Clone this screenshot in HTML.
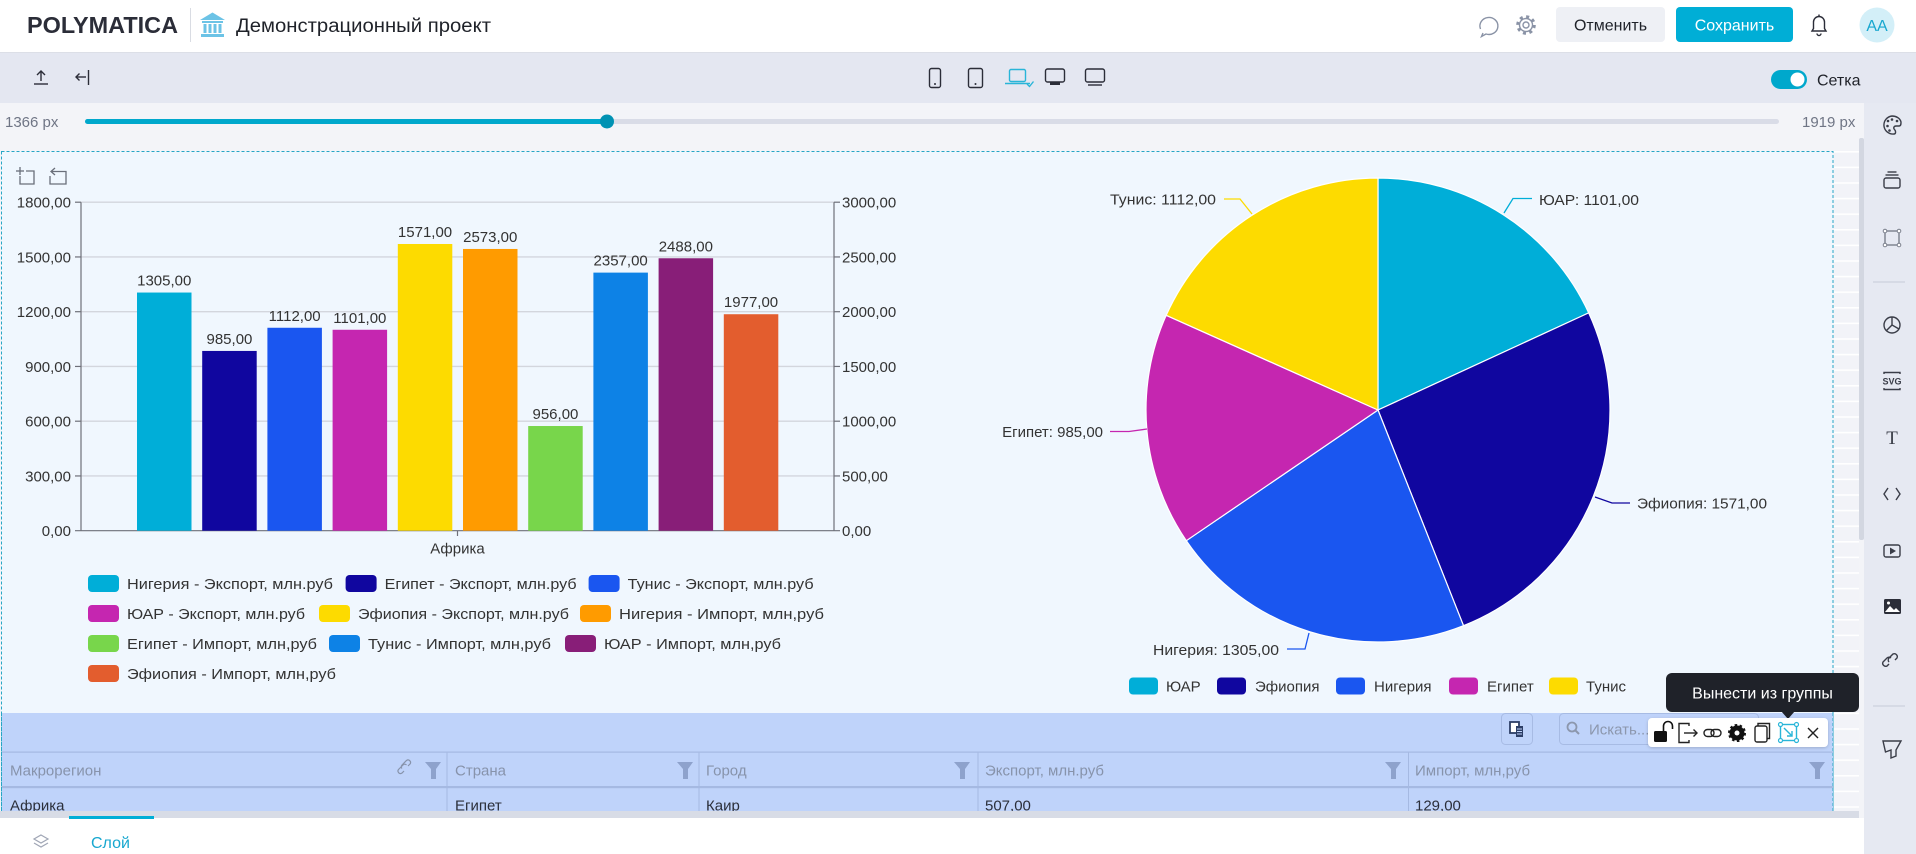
<!DOCTYPE html>
<html><head><meta charset="utf-8"><style>
html,body{margin:0;padding:0;width:1916px;height:854px;overflow:hidden;background:#f3f4f8}
svg{position:absolute;left:0;top:0;display:block}
text{font-family:"Liberation Sans","DejaVu Sans",sans-serif}
</style></head><body>
<svg width="1916" height="854" viewBox="0 0 1916 854" xmlns="http://www.w3.org/2000/svg">
<defs>
<pattern id="grid" x="0" y="151" width="30" height="15.6" patternUnits="userSpaceOnUse">
<rect width="30" height="15.6" fill="#f2f3f8"/><rect width="30" height="1.6" fill="#ffffff"/>
</pattern>
<clipPath id="tbl"><rect x="2" y="713" width="1831" height="98"/></clipPath>
<filter id="sh" x="-10%" y="-30%" width="120%" height="160%"><feDropShadow dx="0" dy="1" stdDeviation="1.5" flood-color="#000" flood-opacity="0.18"/></filter>
</defs>

<!-- HEADER -->
<rect x="0" y="0" width="1916" height="52" fill="#ffffff"/>
<rect x="0" y="52" width="1916" height="1" fill="#dcdfe7"/>
<text x="27" y="33" font-size="23" font-weight="bold" fill="#2b2d38" textLength="151" lengthAdjust="spacingAndGlyphs">POLYMATICA</text>
<rect x="190" y="8" width="1" height="34" fill="#d9dce3"/>
<g fill="#6cc3e6">
<polygon points="200,20 212.5,12.5 225,20"/>
<rect x="202" y="21" width="21" height="2"/>
<rect x="203.5" y="24" width="3" height="9"/><rect x="208.5" y="24" width="3" height="9"/><rect x="213.5" y="24" width="3" height="9"/><rect x="218.5" y="24" width="3" height="9"/>
<rect x="201" y="34" width="23" height="3"/>
</g>
<text x="236" y="32" font-size="19" fill="#1f2229" textLength="255" lengthAdjust="spacingAndGlyphs">Демонстрационный проект</text>

<g fill="none" stroke="#8a93a6" stroke-width="1.4">
<path d="M1483,33 L1481.5,36.5 L1486,34 A9,8.5 0 1 0 1480.5,29"/>
<circle cx="1526" cy="25" r="3"/>
<circle cx="1526" cy="25" r="6.5"/>
<circle cx="1526" cy="25" r="8.3" stroke-width="3" stroke-dasharray="3 3.5"/>
</g>
<rect x="1556" y="7" width="109" height="35" rx="4" fill="#eef0f5"/>
<text x="1610.5" y="30.5" font-size="16" fill="#1f2229" text-anchor="middle">Отменить</text>
<rect x="1676" y="7" width="117" height="35" rx="4" fill="#00aed6"/>
<text x="1734.5" y="30.5" font-size="16" fill="#ffffff" text-anchor="middle">Сохранить</text>
<g fill="none" stroke="#2b2d38" stroke-width="1.4">
<path d="M1812,31 L1813.5,28.5 L1813.5,22 A5.5,5.5 0 0 1 1824.5,22 L1824.5,28.5 L1826,31 Z"/>
<path d="M1817,33.5 A2,2 0 0 0 1821,33.5"/>
<line x1="1819" y1="14.5" x2="1819" y2="16.5"/>
</g>
<circle cx="1877" cy="25" r="17.5" fill="#d3eff8"/>
<text x="1877" y="31" font-size="16" fill="#17a7cf" text-anchor="middle">AA</text>

<!-- TOOLBAR -->
<rect x="0" y="53" width="1916" height="50" fill="#e4e7f1"/>
<g fill="none" stroke="#2b2d38" stroke-width="1.4">
<line x1="34" y1="84" x2="48" y2="84"/>
<line x1="41" y1="81" x2="41" y2="71"/>
<polyline points="37,75 41,71 45,75"/>
<line x1="76" y1="77" x2="86" y2="77"/>
<polyline points="79.5,73.5 76,77 79.5,80.5"/>
<line x1="88.5" y1="70" x2="88.5" y2="85"/>
<rect x="929.5" y="68.5" width="11" height="19" rx="2"/>
<rect x="968.5" y="68.5" width="14" height="19" rx="2"/>
<rect x="1045.5" y="69" width="19" height="13" rx="2"/>
<rect x="1085.5" y="69" width="19" height="13" rx="2"/>
<line x1="1088" y1="85" x2="1102" y2="85"/>
</g>
<circle cx="935" cy="84" r="1" fill="#2b2d38"/><circle cx="975.5" cy="84" r="1" fill="#2b2d38"/>
<rect x="1050" y="82" width="10" height="3" fill="#2b2d38"/>
<g fill="none" stroke="#29b5d8" stroke-width="1.4">
<rect x="1009.5" y="69.5" width="16" height="12" rx="1.5"/>
<line x1="1005" y1="83.5" x2="1030" y2="83.5"/>
<polyline points="1027,84 1029.5,86.5 1033.5,81.5"/>
</g>
<rect x="1771" y="70" width="36" height="19" rx="9.5" fill="#00a8cc"/>
<circle cx="1797.5" cy="79.5" r="7" fill="#ffffff"/>
<text x="1817" y="85.5" font-size="16" fill="#1f2229">Сетка</text>

<!-- SLIDER ROW -->
<rect x="0" y="103" width="1864" height="35" fill="#f3f4f8"/>
<text x="5" y="127" font-size="15" fill="#6f7585">1366 px</text>
<rect x="85" y="119" width="1694" height="5" rx="2.5" fill="#d9dce7"/>
<rect x="85" y="119" width="522" height="5" rx="2.5" fill="#00a8cc"/>
<circle cx="607" cy="121.5" r="7" fill="#0092b3"/>
<text x="1802" y="127" font-size="15" fill="#6f7585">1919 px</text>

<!-- CANVAS -->
<rect x="0" y="138" width="1864" height="680" fill="#f3f4f8"/>
<rect x="1834" y="151" width="25" height="660" fill="url(#grid)"/>
<rect x="1.5" y="151.5" width="1831.5" height="660" fill="#f0f7fe" stroke="#27a6c6" stroke-width="1" stroke-dasharray="3 2"/>
<rect x="1859" y="138" width="5" height="402" rx="2" fill="#d3d7e1"/>

<!-- SIDEBAR -->
<rect x="1864" y="103" width="52" height="751" fill="#e6e9f2"/>
<rect x="1873" y="281.5" width="32" height="1" fill="#c5cad8"/>
<rect x="1873" y="705.5" width="32" height="1" fill="#c5cad8"/>
<g fill="none" stroke="#3a3d48" stroke-width="1.4">
<path d="M1892,116 A9,9 0 1 0 1894,134 C1896,134 1896,131 1894.5,129.5 C1893,128 1894,126 1896,126 L1899,126 C1901,126 1901,124 1901,122 C1900,118 1896,116 1892,116 Z"/>
<rect x="1884" y="178" width="16" height="10" rx="2"/>
<line x1="1885.5" y1="175" x2="1898.5" y2="175"/>
<line x1="1887.5" y1="172" x2="1896.5" y2="172"/>
<rect x="1885" y="231" width="14" height="14" stroke="#7a7f8c"/>
<circle cx="1892" cy="325" r="8"/>
<polyline points="1892,317 1892,325 1899,329"/>
<line x1="1892" y1="325" x2="1886" y2="331"/>
<polyline points="1884,374 1884,372.5 1900,372.5 1900,374"/>
<polyline points="1884,388 1884,389.5 1900,389.5 1900,388"/>
<polyline points="1888,488 1884,494 1888,500"/>
<polyline points="1896,488 1900,494 1896,500"/>
<rect x="1884" y="545" width="16" height="12" rx="2"/>
<path d="M1885.5,752 L1883,741 L1901,741 L1896,750 L1896,756 L1891,758 L1891,750 Z"/>
<path d="M1889,664 L1887,666 A3,3 0 0 1 1883,662 L1887,658 A3,3 0 0 1 1891,658 M1895,660 L1897,658 A3,3 0 0 0 1893,654 L1889,658 A3,3 0 0 0 1889,662"/>
</g>
<g fill="#ffffff" stroke="#7a7f8c" stroke-width="1"><circle cx="1885" cy="231" r="1.8"/><circle cx="1899" cy="231" r="1.8"/><circle cx="1885" cy="245" r="1.8"/><circle cx="1899" cy="245" r="1.8"/></g>
<g fill="#3a3d48"><circle cx="1888" cy="121" r="1.3"/><circle cx="1892" cy="119.5" r="1.3"/><circle cx="1897" cy="121" r="1.3"/><circle cx="1887.5" cy="126" r="1.3"/><circle cx="1889.5" cy="130.5" r="1.3"/></g>
<text x="1892" y="384.5" font-size="9" font-weight="bold" fill="#3a3d48" text-anchor="middle">SVG</text>
<text x="1892" y="444" font-size="19" fill="#3a3d48" text-anchor="middle" font-family="Liberation Serif, serif" style="font-family:'Liberation Serif',serif">T</text>
<polygon points="1890,547.5 1890,554.5 1896,551" fill="#3a3d48"/>
<rect x="1884" y="599" width="17" height="15" rx="1.5" fill="#2b2d38"/>
<path d="M1885,612 L1890,606 L1894,610 L1896,608 L1900,612 Z" fill="#ffffff"/>
<circle cx="1888.5" cy="603" r="1.5" fill="#ffffff"/>

<!-- BAR CHART -->
<g fill="none" stroke="#6a6f7a" stroke-width="1.3">
<line x1="16" y1="171" x2="24" y2="171"/><line x1="20" y1="167" x2="20" y2="175"/>
<polyline points="20,176 20,184 34,184 34,171 26,171"/>
<path d="M55,168 L51,171.5 L55,175 M51.5,171.5 L66,171.5 L66,184 L50,184 L50,176"/>
</g>
<g stroke="#d3d6dd" stroke-width="1.3">
<line x1="81" y1="202.2" x2="834" y2="202.2"/>
<line x1="81" y1="256.95" x2="834" y2="256.95"/>
<line x1="81" y1="311.7" x2="834" y2="311.7"/>
<line x1="81" y1="366.45" x2="834" y2="366.45"/>
<line x1="81" y1="421.2" x2="834" y2="421.2"/>
<line x1="81" y1="475.95" x2="834" y2="475.95"/>
</g>
<g stroke="#6e7079" stroke-width="1.2">
<line x1="81" y1="202.2" x2="81" y2="530.7"/>
<line x1="834" y1="202.2" x2="834" y2="530.7"/>
<line x1="75" y1="530.7" x2="840" y2="530.7"/>
<line x1="75" y1="202.2" x2="81" y2="202.2"/><line x1="75" y1="256.95" x2="81" y2="256.95"/><line x1="75" y1="311.7" x2="81" y2="311.7"/><line x1="75" y1="366.45" x2="81" y2="366.45"/><line x1="75" y1="421.2" x2="81" y2="421.2"/><line x1="75" y1="475.95" x2="81" y2="475.95"/>
<line x1="834" y1="202.2" x2="840" y2="202.2"/><line x1="834" y1="256.95" x2="840" y2="256.95"/><line x1="834" y1="311.7" x2="840" y2="311.7"/><line x1="834" y1="366.45" x2="840" y2="366.45"/><line x1="834" y1="421.2" x2="840" y2="421.2"/><line x1="834" y1="475.95" x2="840" y2="475.95"/>
<line x1="457.5" y1="530.7" x2="457.5" y2="536"/>
</g>
<g font-size="15" fill="#333333" text-anchor="end">
<text x="71" y="207.5">1800,00</text>
<text x="71" y="262.3">1500,00</text>
<text x="71" y="317">1200,00</text>
<text x="71" y="371.8">900,00</text>
<text x="71" y="426.5">600,00</text>
<text x="71" y="481.3">300,00</text>
<text x="71" y="536">0,00</text>
</g>
<g font-size="15" fill="#333333">
<text x="842" y="207.5">3000,00</text>
<text x="842" y="262.3">2500,00</text>
<text x="842" y="317">2000,00</text>
<text x="842" y="371.8">1500,00</text>
<text x="842" y="426.5">1000,00</text>
<text x="842" y="481.3">500,00</text>
<text x="842" y="536">0,00</text>
<text x="457.5" y="553.5" text-anchor="middle">Африка</text>
</g>
<g>
<rect x="137" y="292.54" width="54.5" height="238.16" fill="#00aed8"/>
<rect x="202.2" y="350.94" width="54.5" height="179.76" fill="#10069f"/>
<rect x="267.4" y="327.76" width="54.5" height="202.94" fill="#1a56f0"/>
<rect x="332.6" y="329.77" width="54.5" height="200.93" fill="#c526b0"/>
<rect x="397.8" y="243.99" width="54.5" height="286.71" fill="#fddb00"/>
<rect x="463" y="248.96" width="54.5" height="281.74" fill="#ff9b00"/>
<rect x="528.2" y="426.02" width="54.5" height="104.68" fill="#78d64b"/>
<rect x="593.4" y="272.61" width="54.5" height="258.09" fill="#0d82e6"/>
<rect x="658.6" y="258.26" width="54.5" height="272.44" fill="#881e78"/>
<rect x="723.8" y="314.22" width="54.5" height="216.48" fill="#e35d2e"/>
</g>
<g font-size="15" fill="#333333" text-anchor="middle">
<text x="164.25" y="285.5">1305,00</text>
<text x="229.45" y="344">985,00</text>
<text x="294.65" y="320.8">1112,00</text>
<text x="359.85" y="322.8">1101,00</text>
<text x="425.05" y="237">1571,00</text>
<text x="490.25" y="242">2573,00</text>
<text x="555.45" y="419">956,00</text>
<text x="620.65" y="265.6">2357,00</text>
<text x="685.85" y="251.3">2488,00</text>
<text x="751.05" y="307.2">1977,00</text>
</g>
<!-- bar legend -->
<g>
<rect x="88" y="575" width="31" height="17" rx="4" fill="#00aed8"/>
<rect x="345.6" y="575" width="31" height="17" rx="4" fill="#10069f"/>
<rect x="588.6" y="575" width="31" height="17" rx="4" fill="#1a56f0"/>
<rect x="88" y="605" width="31" height="17" rx="4" fill="#c526b0"/>
<rect x="319" y="605" width="31" height="17" rx="4" fill="#fddb00"/>
<rect x="580" y="605" width="31" height="17" rx="4" fill="#ff9b00"/>
<rect x="88" y="635" width="31" height="17" rx="4" fill="#78d64b"/>
<rect x="329" y="635" width="31" height="17" rx="4" fill="#0d82e6"/>
<rect x="565" y="635" width="31" height="17" rx="4" fill="#881e78"/>
<rect x="88" y="665" width="31" height="17" rx="4" fill="#e35d2e"/>
</g>
<g font-size="15" fill="#333333">
<text x="127" y="589" textLength="206" lengthAdjust="spacingAndGlyphs">Нигерия - Экспорт, млн.руб</text>
<text x="384.6" y="589" textLength="192" lengthAdjust="spacingAndGlyphs">Египет - Экспорт, млн.руб</text>
<text x="627.6" y="589" textLength="186" lengthAdjust="spacingAndGlyphs">Тунис - Экспорт, млн.руб</text>
<text x="127" y="619" textLength="178" lengthAdjust="spacingAndGlyphs">ЮАР - Экспорт, млн.руб</text>
<text x="358" y="619" textLength="211" lengthAdjust="spacingAndGlyphs">Эфиопия - Экспорт, млн.руб</text>
<text x="619" y="619" textLength="205" lengthAdjust="spacingAndGlyphs">Нигерия - Импорт, млн,руб</text>
<text x="127" y="649" textLength="190" lengthAdjust="spacingAndGlyphs">Египет - Импорт, млн,руб</text>
<text x="368" y="649" textLength="183" lengthAdjust="spacingAndGlyphs">Тунис - Импорт, млн,руб</text>
<text x="604" y="649" textLength="177" lengthAdjust="spacingAndGlyphs">ЮАР - Импорт, млн,руб</text>
<text x="127" y="679" textLength="209" lengthAdjust="spacingAndGlyphs">Эфиопия - Импорт, млн,руб</text>
</g>

<!-- PIE -->
<g stroke="#ffffff" stroke-width="1.2" stroke-linejoin="round">
<path d="M1378,410 L1378,178 A232,232 0 0 1 1588.69,312.87 Z" fill="#00aed8"/>
<path d="M1378,410 L1588.69,312.87 A232,232 0 0 1 1463.52,625.66 Z" fill="#10069f"/>
<path d="M1378,410 L1463.52,625.66 A232,232 0 0 1 1186.31,540.69 Z" fill="#1a56f0"/>
<path d="M1378,410 L1186.31,540.69 A232,232 0 0 1 1166.21,315.30 Z" fill="#c526b0"/>
<path d="M1378,410 L1166.21,315.30 A232,232 0 0 1 1378,178 Z" fill="#fddb00"/>
</g>
<g fill="none" stroke-width="1.3">
<polyline points="1504,213 1513,198.5 1532,198.5" stroke="#00aed8"/>
<polyline points="1595,497 1612,503 1630,503" stroke="#10069f"/>
<polyline points="1309,633 1305,649 1287,649" stroke="#1a56f0"/>
<polyline points="1147,429 1129,431.5 1110,431.5" stroke="#c526b0"/>
<polyline points="1252,214 1240,199 1224,199" stroke="#fddb00"/>
</g>
<g font-size="15" fill="#333333">
<text x="1539" y="205" textLength="100" lengthAdjust="spacingAndGlyphs">ЮАР: 1101,00</text>
<text x="1637" y="508.5" textLength="130" lengthAdjust="spacingAndGlyphs">Эфиопия: 1571,00</text>
<text x="1153" y="655" textLength="126" lengthAdjust="spacingAndGlyphs">Нигерия: 1305,00</text>
<text x="1103" y="437" text-anchor="end">Египет: 985,00</text>
<text x="1110" y="204.5" textLength="106" lengthAdjust="spacingAndGlyphs">Тунис: 1112,00</text>
</g>
<g>
<rect x="1129" y="677.5" width="29" height="17" rx="4" fill="#00aed8"/>
<rect x="1217" y="677.5" width="29" height="17" rx="4" fill="#10069f"/>
<rect x="1336" y="677.5" width="29" height="17" rx="4" fill="#1a56f0"/>
<rect x="1449" y="677.5" width="29" height="17" rx="4" fill="#c526b0"/>
<rect x="1549" y="677.5" width="29" height="17" rx="4" fill="#fddb00"/>
</g>
<g font-size="15" fill="#333333">
<text x="1166" y="691.5">ЮАР</text>
<text x="1255" y="691.5">Эфиопия</text>
<text x="1374" y="691.5">Нигерия</text>
<text x="1487" y="691.5">Египет</text>
<text x="1586" y="691.5">Тунис</text>
</g>

<!-- TABLE -->
<g clip-path="url(#tbl)">
<rect x="2" y="713" width="1831" height="98" fill="#bfd3fa"/>
<rect x="2" y="751.5" width="1831" height="1.2" fill="#a5b9e2"/>
<rect x="2" y="786" width="1831" height="2.2" fill="#a5b9e2"/>
<g fill="#a5b9e2">
<rect x="446.5" y="752" width="1" height="60"/>
<rect x="698.5" y="752" width="1" height="60"/>
<rect x="977.5" y="752" width="1" height="60"/>
<rect x="1408" y="752" width="1" height="60"/>
</g>
<rect x="1501.5" y="713.5" width="31" height="31" rx="4" fill="none" stroke="#a7bbe4"/>
<rect x="1510" y="722" width="9" height="11" fill="#ffffff" stroke="#2c3e66" stroke-width="1.8"/>
<rect x="1516" y="726" width="7" height="11" fill="#2c3e66"/>
<g stroke="#bfd3fa" stroke-width="1"><line x1="1517" y1="729" x2="1522" y2="729"/><line x1="1517" y1="731.5" x2="1522" y2="731.5"/><line x1="1517" y1="734" x2="1522" y2="734"/></g>
<rect x="1559.5" y="713.5" width="199" height="31" rx="4" fill="none" stroke="#a7bbe4"/>
<circle cx="1572" cy="727" r="4.5" fill="none" stroke="#8c97ad" stroke-width="1.8"/>
<line x1="1575.5" y1="730.5" x2="1579" y2="734" stroke="#8c97ad" stroke-width="2"/>
<text x="1589" y="734.5" font-size="15" fill="#8c97ad">Искать...</text>
<g font-size="15" fill="#8793ab">
<text x="10" y="775.5">Макрорегион</text>
<text x="455" y="775.5">Страна</text>
<text x="706" y="775.5">Город</text>
<text x="985" y="775.5">Экспорт, млн.руб</text>
<text x="1415" y="775.5">Импорт, млн,руб</text>
</g>
<g fill="#8ea2cc">
<path d="M425,762 L441,762 L436,769 L436,779 L431,779 L431,769 Z"/>
<path d="M677,762 L693,762 L688,769 L688,779 L683,779 L683,769 Z"/>
<path d="M954,762 L970,762 L965,769 L965,779 L960,779 L960,769 Z"/>
<path d="M1385,762 L1401,762 L1396,769 L1396,779 L1391,779 L1391,769 Z"/>
<path d="M1809,762 L1825,762 L1820,769 L1820,779 L1815,779 L1815,769 Z"/>
</g>
<path d="M404,771 L402,773 A2.5,2.5 0 0 1 398.5,769.5 L403,765 A2.5,2.5 0 0 1 406.5,765 M408,766 L410,764 A2.5,2.5 0 0 0 406.5,760.5 L402,765 A2.5,2.5 0 0 0 402,768.5" fill="none" stroke="#8793ab" stroke-width="1.2"/>
<g font-size="15" fill="#2b2f3a">
<text x="10" y="810.5">Африка</text>
<text x="455" y="810.5">Египет</text>
<text x="706" y="810.5">Каир</text>
<text x="985" y="810.5">507,00</text>
<text x="1415" y="810.5">129,00</text>
</g>
</g>
<line x1="1.5" y1="713" x2="1.5" y2="811" stroke="#27a6c6" stroke-dasharray="3 2"/>
<line x1="1833" y1="713" x2="1833" y2="811" stroke="#27a6c6" stroke-dasharray="3 2"/>

<!-- SCROLL + BOTTOM -->
<rect x="0" y="811" width="1859" height="7" fill="#d8dce6"/>
<rect x="0" y="818" width="1864" height="36" fill="#ffffff"/>
<rect x="69" y="816" width="85" height="3" fill="#00aed6"/>
<g fill="none" stroke="#a0a6b5" stroke-width="1.2">
<polygon points="41,835 48,839 41,843 34,839"/>
<polyline points="34,843 41,847 48,843"/>
</g>
<text x="91" y="848" font-size="16" fill="#17a7cf">Слой</text>

<!-- TOOLTIP -->
<rect x="1666" y="673" width="193" height="39" rx="6" fill="#1f2229"/>
<polygon points="1781,711 1795,711 1788,719" fill="#1f2229"/>
<text x="1762.5" y="698.5" font-size="16" fill="#ffffff" text-anchor="middle">Вынести из группы</text>

<!-- FLOATING TOOLBAR -->
<rect x="1648" y="718" width="180" height="29" rx="4" fill="#ffffff" filter="url(#sh)"/>
<rect x="1654" y="731" width="13" height="11" rx="1.5" fill="#111111"/>
<path d="M1663.5,731 L1663.5,726 A4.5,4.5 0 0 1 1672.5,726 L1672.5,729" fill="none" stroke="#111111" stroke-width="1.6"/>
<g fill="none" stroke="#222222" stroke-width="1.4">
<polyline points="1689,726 1689,723.5 1679,723.5 1679,742.5 1689,742.5 1689,740"/>
<line x1="1684" y1="733" x2="1697" y2="733"/>
<polyline points="1693.5,729.5 1697,733 1693.5,736.5"/>
<rect x="1704" y="729.5" width="10" height="7" rx="3.5"/>
<rect x="1711" y="729.5" width="10" height="7" rx="3.5"/>
<rect x="1755" y="726" width="12" height="16" rx="2"/>
<path d="M1758,726 L1758,723.5 L1769.5,723.5 L1769.5,738.5 L1767,738.5"/>
<line x1="1808" y1="728" x2="1818" y2="738"/>
<line x1="1818" y1="728" x2="1808" y2="738"/>
</g>
<circle cx="1737" cy="733" r="7.5" fill="#111111" stroke="#111111" stroke-width="3" stroke-dasharray="2.4 2.3"/>
<circle cx="1737" cy="733" r="5.5" fill="#111111"/>
<circle cx="1737" cy="733" r="2.5" fill="#ffffff"/>
<g fill="none" stroke="#29b5d8" stroke-width="1.4">
<rect x="1780.5" y="724.5" width="16" height="16"/>
<line x1="1784" y1="728" x2="1792" y2="736"/>
<polyline points="1792,731 1792,736 1787,736"/>
</g>
<g fill="#ffffff" stroke="#29b5d8" stroke-width="1.2">
<circle cx="1780.5" cy="724.5" r="2"/><circle cx="1796.5" cy="724.5" r="2"/><circle cx="1780.5" cy="740.5" r="2"/><circle cx="1796.5" cy="740.5" r="2"/>
</g>
</svg>
</body></html>
